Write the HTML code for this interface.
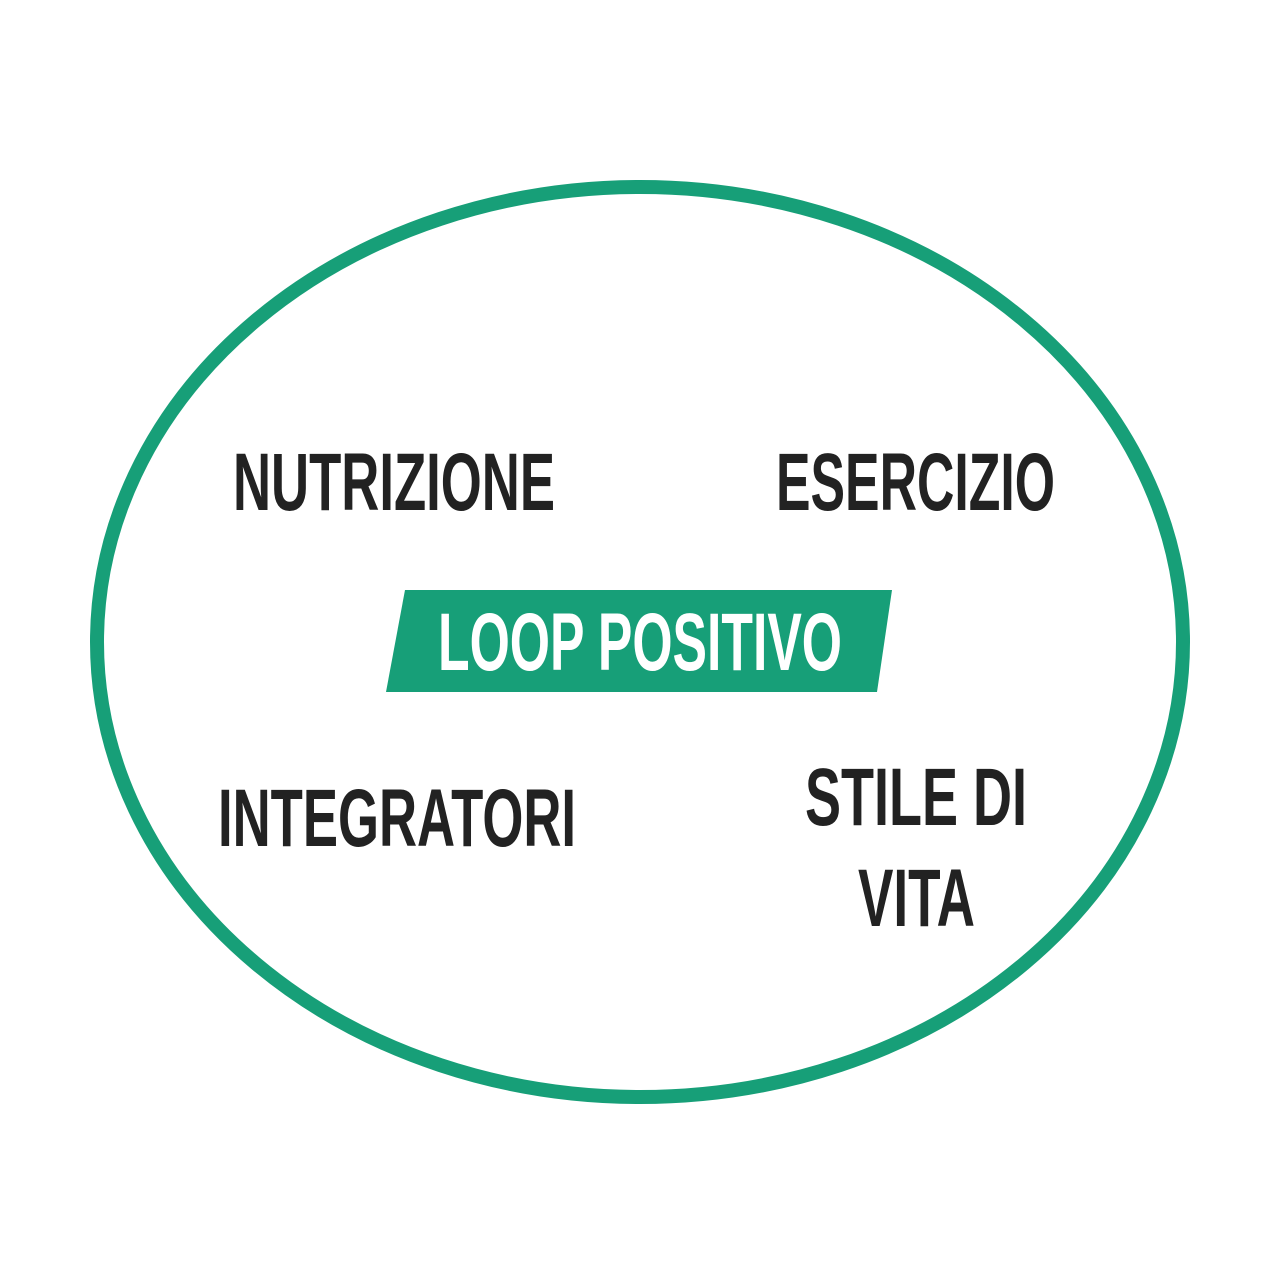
<!DOCTYPE html>
<html><head><meta charset="utf-8"><style>html,body{margin:0;padding:0;background:#fff}svg{display:block}</style></head>
<body>
<svg width="1280" height="1280" viewBox="0 0 1280 1280" xmlns="http://www.w3.org/2000/svg">
<rect width="1280" height="1280" fill="#fff"/>
<ellipse cx="640" cy="642" rx="543" ry="455" fill="none" stroke="#179f78" stroke-width="14"/>
<polygon points="405,590 892,590 877,692 386,692" fill="#179f78"/>
<g font-family="'Liberation Sans Narrow','Liberation Sans',sans-serif" font-weight="bold" font-size="82" fill="#222">
<text x="233" y="510" textLength="322" lengthAdjust="spacingAndGlyphs">NUTRIZIONE</text>
<text x="776" y="510" textLength="279" lengthAdjust="spacingAndGlyphs">ESERCIZIO</text>
<text x="218" y="846" textLength="358" lengthAdjust="spacingAndGlyphs">INTEGRATORI</text>
<text x="805" y="825" textLength="222" lengthAdjust="spacingAndGlyphs">STILE DI</text>
<text x="858" y="926" textLength="117" lengthAdjust="spacingAndGlyphs">VITA</text>
<text x="438" y="670" fill="#fff" textLength="404" lengthAdjust="spacingAndGlyphs">LOOP POSITIVO</text>
</g>
</svg>
</body></html>
